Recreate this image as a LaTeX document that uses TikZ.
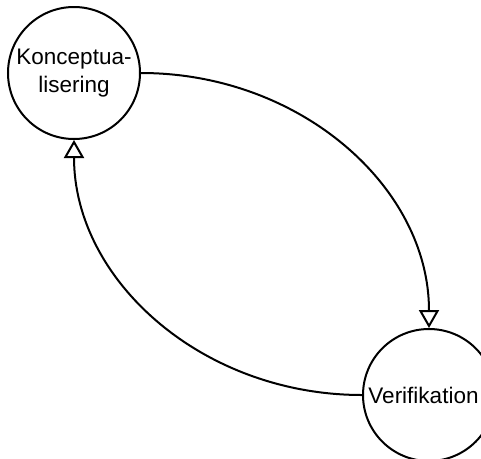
\documentclass[tikz,border=0pt]{standalone}
\usepackage{fontspec}
\setmainfont{Liberation Sans}
\usetikzlibrary{arrows.meta}
\begin{document}
\begin{tikzpicture}[x=1pt,y=-1pt,
  phase/.style={circle,draw,line width=2pt,minimum size=132pt,inner sep=0pt,
    align=center,font=\fontsize{22.5}{28}\selectfont},
  flow/.style={line width=2pt,-{Triangle[open,length=18pt,width=20pt]}}]
\useasboundingbox (0,0) rectangle (481,458);
\node[phase] (konc) at (74,73) {Konceptua-\\lisering};
\node[phase] (verif) at (429,395) {\hspace*{-11pt}Verifikation};
\draw[flow] (konc.east) .. controls +(159,0) and +(0,-141) .. (verif.north);
\draw[flow] (verif.west) .. controls +(-160,0) and +(0,140) .. (konc.south);
\end{tikzpicture}
\end{document}
